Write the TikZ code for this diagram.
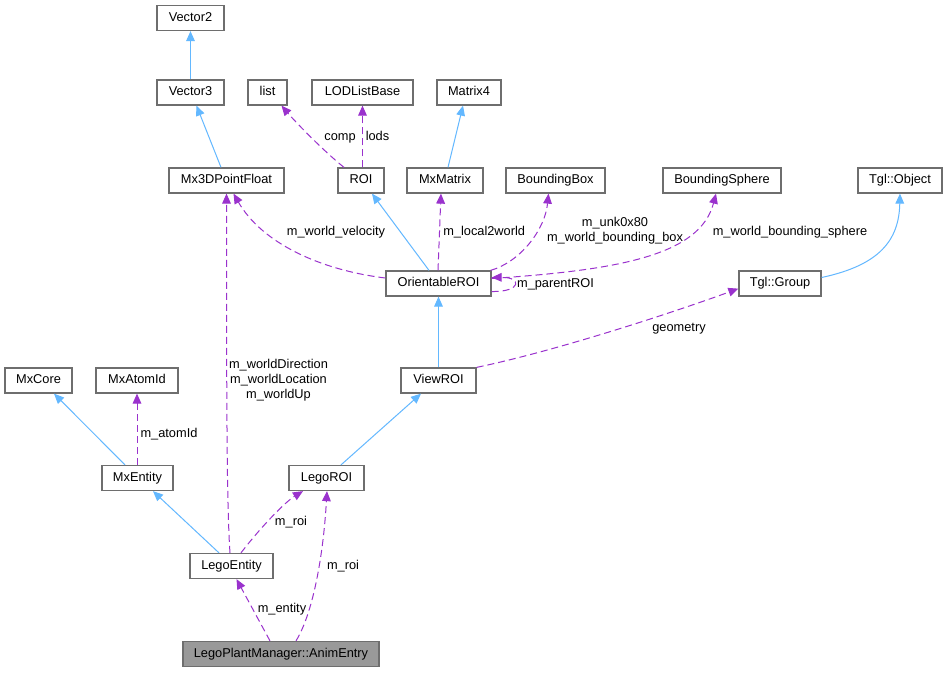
\documentclass[tikz,border=0pt]{standalone}
\usepackage{fontspec}
\setmainfont{Liberation Sans}
\usetikzlibrary{arrows.meta,calc}
\definecolor{inhc}{HTML}{63B8FF}
\definecolor{usec}{HTML}{9A32CD}
\definecolor{boxc}{HTML}{6E6E6E}
\definecolor{mainfill}{HTML}{999999}
\begin{document}
\begin{tikzpicture}[x=0.75pt,y=-0.75pt,
  font=\fontsize{9.6pt}{11.25pt}\selectfont,
  cls/.style={draw=boxc, fill=white, line width=0.95pt, minimum height=25*0.75pt, inner sep=0pt, text height=0.716em, text depth=0.21em},
  bw/.style={minimum width=#1*0.75pt},
  tipa/.style={-{Triangle[length=7.5pt,width=6.5pt]}},
  inh/.style={draw=inhc, line width=0.75pt, tipa},
  use/.style={draw=usec, line width=0.75pt, dash pattern=on 5.25pt off 3pt, tipa},
  lbl/.style={inner sep=0pt, anchor=base},
  mlbl/.style={inner sep=0pt, align=center},
]
\useasboundingbox[fill=white] (0,0) rectangle (947,672);

% classes
\node[cls,bw=67] (v2) at (190.5,18) {Vector2};
\node[cls,bw=67] (v3) at (190.5,92.5) {Vector3};
\node[cls,bw=39] (list) at (267.5,92.5) {list};
\node[cls,bw=101] (lod) at (362.5,92.5) {LODListBase};
\node[cls,bw=64] (m4) at (469,92.5) {Matrix4};
\node[cls,bw=115] (mx3d) at (226.5,180.5) {Mx3DPointFloat};
\node[cls,bw=46] (roi) at (361,180.5) {ROI};
\node[cls,bw=76] (mxm) at (445,180.5) {MxMatrix};
\node[cls,bw=99] (bbox) at (555.5,180.5) {BoundingBox};
\node[cls,bw=118] (bsph) at (722,180.5) {BoundingSphere};
\node[cls,bw=84] (tglo) at (900,180.5) {Tgl::Object};
\node[cls,bw=105] (oroi) at (438.5,283.5) {OrientableROI};
\node[cls,bw=82] (tglg) at (780,283.5) {Tgl::Group};
\node[cls,bw=75] (vroi) at (438.5,380.5) {ViewROI};
\node[cls,bw=67] (mxcore) at (38.5,380.5) {MxCore};
\node[cls,bw=82] (mxatom) at (137,380.5) {MxAtomId};
\node[cls,bw=71] (mxe) at (137.5,478) {MxEntity};
\node[cls,bw=75] (lroi) at (326.5,478) {LegoROI};
\node[cls,bw=83] (le) at (231.5,566) {LegoEntity};
\node[cls,bw=196,fill=mainfill] (anim) at (281,654) {LegoPlantManager::AnimEntry};

% edges
\draw[inh] (v3.north) -- (v2.south);
\draw[inh] ($(mx3d.north)+(-5.5,0)$) -- ($(v3.south)+(6,0)$);
\draw[use] ($(roi.north)+(-17,0)$) .. controls (320,148) and (292,118) .. ($(list.south)+(14,0)$);
\node[lbl] (lcomp) at (340,140) {comp};
\draw[use] ($(roi.north)+(1.5,0)$) -- (lod.south);
\node[lbl] (llods) at (377.5,140) {lods};
\draw[inh] ($(mxm.north)+(3,0)$) -- ($(m4.south)+(-6,0)$);
\draw[inh] ($(oroi.north)+(-9.5,0)$) -- ($(roi.south)+(11,0)$);
\draw[use] ($(oroi.north)+(-0.5,0)$) -- ($(mxm.south)+(-4,0)$);
\node[lbl,anchor=base west] (lloc) at (443,235) {m\_local2world};
\draw[use] ($(oroi.west)+(0,-5.5)$) .. controls (320,270) and (262,243) .. ($(mx3d.south)+(7,0)$);
\node[lbl] (lvel) at (336,235) {m\_world\_velocity};
\draw[use] ($(oroi.north east)+(-1,0)$) .. controls (520,262) and (545,230) .. ($(bbox.south)+(-7,0)$);
\node[mlbl] (lbb) at (615,230.5) {m\_unk0x80\\m\_world\_bounding\_box};
\draw[use] ($(oroi.east)+(0,-5)$) .. controls (620,270) and (700,255) .. ($(bsph.south)+(-6,0)$);
\node[lbl] (lbs) at (790,235) {m\_world\_bounding\_sphere};
\draw[use] ($(oroi.east)+(0,8)$) .. controls (522,292) and (522,277) .. ($(oroi.east)+(0,-6)$);
\node[lbl] (lpar) at (555.5,287) {m\_parentROI};
\draw[inh] (vroi.north) -- (oroi.south);
\draw[use] (vroi.north east) .. controls (560,350) and (680,310) .. ($(tglg.south west)+(0,-8)$);
\node[lbl] (lgeo) at (679,331) {geometry};
\draw[inh] ($(tglg.east)+(0,-6)$) .. controls (880,265) and (899,240) .. (tglo.south);
\draw[inh] ($(mxe.north)+(-12.5,0)$) -- ($(mxcore.south)+(15.5,0)$);
\draw[use] ($(mxe.north)+(-0.5,0)$) -- (mxatom.south);
\node[lbl] (latom) at (169,437) {m\_atomId};
\draw[inh] ($(le.north)+(-12.5,0)$) -- ($(mxe.south)+(15.5,0)$);
\draw[use] ($(le.north)+(-1.5,0)$) .. controls (227,510) and (226.5,420) .. (mx3d.south);
\node[mlbl] (lwd) at (278.5,380) {m\_worldDirection\\m\_worldLocation\\m\_worldUp};
\draw[use] ($(le.north)+(9.5,0)$) .. controls (260,528) and (285,502) .. ($(lroi.south)+(-23.5,0)$);
\node[lbl] (lroi1) at (291,525) {m\_roi};
\draw[inh] ($(lroi.north)+(14.5,0)$) -- ($(vroi.south)+(-17.5,0)$);
\draw[use] ($(anim.north)+(-11,0)$) -- ($(le.south)+(5,0)$);
\node[lbl] (lent) at (282,612) {m\_entity};
\draw[use] ($(anim.north)+(15,0)$) .. controls (312,615) and (323,560) .. ($(lroi.south)+(0.5,0)$);
\node[lbl] (lroi2) at (343,569) {m\_roi};
\end{tikzpicture}
\end{document}
